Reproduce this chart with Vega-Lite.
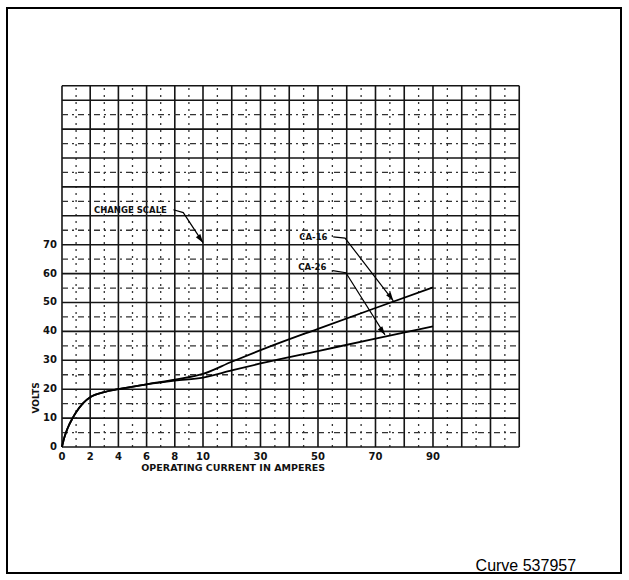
{
  "$schema": "https://vega.github.io/schema/vega-lite/v6.json",
  "width": 614,
  "height": 565,
  "autosize": {"type": "none"},
  "padding": {"left": 7, "top": 8, "right": 8, "bottom": 7},
  "background": "white",
  "config": {"view": {"stroke": "#000", "strokeWidth": 2}},
  "data": {"values": [{}]},
  "datasets": {
    "vmaj": [{"a":0},{"a":2},{"a":4},{"a":6},{"a":8},{"a":10},{"a":20},{"a":30},{"a":40},{"a":50},{"a":60},{"a":70},{"a":80},{"a":90},{"a":100},{"a":110},{"a":120}],
    "vmin": [{"a":1},{"a":3},{"a":5},{"a":7},{"a":9},{"a":15},{"a":25},{"a":35},{"a":45},{"a":55},{"a":65},{"a":75},{"a":85},{"a":95},{"a":105},{"a":115}],
    "hmaj": [{"b":0},{"b":10},{"b":20},{"b":30},{"b":40},{"b":50},{"b":60},{"b":70},{"b":80},{"b":90},{"b":100},{"b":110},{"b":120},{"b":125}],
    "hmin": [{"b":5},{"b":15},{"b":25},{"b":35},{"b":45},{"b":55},{"b":65},{"b":75},{"b":85},{"b":95},{"b":105},{"b":115}],
    "curves": [
      {"s":"CA-16","amps":0,"volts":0},{"s":"CA-16","amps":0.15,"volts":3},{"s":"CA-16","amps":0.4,"volts":6.5},{"s":"CA-16","amps":0.7,"volts":9.5},{"s":"CA-16","amps":1,"volts":12},{"s":"CA-16","amps":1.5,"volts":15.2},{"s":"CA-16","amps":2,"volts":17.2},{"s":"CA-16","amps":3,"volts":19},{"s":"CA-16","amps":4,"volts":20},{"s":"CA-16","amps":6,"volts":21.7},{"s":"CA-16","amps":8,"volts":23.3},{"s":"CA-16","amps":10,"volts":25.3},{"s":"CA-16","amps":20,"volts":29.5},{"s":"CA-16","amps":30,"volts":33.5},{"s":"CA-16","amps":50,"volts":40.9},{"s":"CA-16","amps":70,"volts":48.1},{"s":"CA-16","amps":90,"volts":55.2},
      {"s":"CA-26","amps":0,"volts":0},{"s":"CA-26","amps":0.15,"volts":3},{"s":"CA-26","amps":0.4,"volts":6.5},{"s":"CA-26","amps":0.7,"volts":9.5},{"s":"CA-26","amps":1,"volts":12},{"s":"CA-26","amps":1.5,"volts":15.2},{"s":"CA-26","amps":2,"volts":17.2},{"s":"CA-26","amps":3,"volts":19},{"s":"CA-26","amps":4,"volts":20},{"s":"CA-26","amps":6,"volts":21.7},{"s":"CA-26","amps":8,"volts":23.0},{"s":"CA-26","amps":10,"volts":24.0},{"s":"CA-26","amps":20,"volts":26.5},{"s":"CA-26","amps":30,"volts":28.9},{"s":"CA-26","amps":50,"volts":33.2},{"s":"CA-26","amps":70,"volts":37.5},{"s":"CA-26","amps":90,"volts":41.7}
    ],
    "ylabels": [{"v":0},{"v":10},{"v":20},{"v":30},{"v":40},{"v":50},{"v":60},{"v":70}],
    "xlabels": [{"v":0},{"v":2},{"v":4},{"v":6},{"v":8},{"v":10},{"v":30},{"v":50},{"v":70},{"v":90}],
    "leaders": [
      {"g":"cs","k":0,"x":7.9,"y":82.1},{"g":"cs","k":1,"x":8.6,"y":81.1},{"g":"cs","k":2,"x":10,"y":70.7},
      {"g":"c16","k":0,"x":55.3,"y":72.7},{"g":"c16","k":1,"x":59.4,"y":72.3},{"g":"c16","k":2,"x":76.2,"y":50.6},
      {"g":"c26","k":0,"x":55.1,"y":61.0},{"g":"c26","k":1,"x":59.7,"y":60.3},{"g":"c26","k":2,"x":73.3,"y":38.8}
    ],
    "arrows": [{"x":10,"y":70.7},{"x":76.2,"y":50.6},{"x":73.3,"y":38.8}],
    "notes": [
      {"t":"CHANGE SCALE","x":4.85,"y":82.1},
      {"t":"CA-16","x":48.4,"y":72.6},
      {"t":"CA-26","x":48.0,"y":62.3}
    ]
  },
  "layer": [
    {
      "data": {"name": "vmaj"},
      "mark": {"type": "rule", "color": "#151515", "strokeWidth": 1.6},
      "encoding": {
        "x": {"field": "a", "type": "quantitative", "axis": null, "scale": {"type": "linear", "domain": [-3.9, 10, 155.4], "range": [0, 196, 614], "nice": false, "zero": false}},
        "y": {"datum": 0, "type": "quantitative", "axis": null, "scale": {"type": "linear", "domain": [-43.6, 151.9], "nice": false, "zero": false}},
        "y2": {"datum": 125}
      }
    },
    {
      "data": {"name": "vmin"},
      "mark": {"type": "rule", "color": "#333", "strokeWidth": 1.3, "strokeDash": [2, 5]},
      "encoding": {
        "x": {"field": "a", "type": "quantitative", "axis": null},
        "y": {"datum": 0, "type": "quantitative", "axis": null},
        "y2": {"datum": 125}
      }
    },
    {
      "data": {"name": "hmaj"},
      "mark": {"type": "rule", "color": "#151515", "strokeWidth": 1.6},
      "encoding": {
        "y": {"field": "b", "type": "quantitative", "axis": null},
        "x": {"datum": 0, "type": "quantitative", "axis": null},
        "x2": {"datum": 120}
      }
    },
    {
      "data": {"name": "hmin"},
      "mark": {"type": "rule", "color": "#333", "strokeWidth": 1.3, "strokeDash": [6, 4, 2, 4]},
      "encoding": {
        "y": {"field": "b", "type": "quantitative", "axis": null},
        "x": {"datum": 0, "type": "quantitative", "axis": null},
        "x2": {"datum": 120}
      }
    },
    {
      "data": {"name": "curves"},
      "mark": {"type": "line", "color": "#000", "strokeWidth": 1.8, "interpolate": "monotone"},
      "encoding": {
        "x": {"field": "amps", "type": "quantitative", "axis": null},
        "y": {"field": "volts", "type": "quantitative", "axis": null},
        "detail": {"field": "s"}
      }
    },
    {
      "data": {"name": "leaders"},
      "mark": {"type": "line", "color": "#000", "strokeWidth": 1.2},
      "encoding": {
        "x": {"field": "x", "type": "quantitative", "axis": null},
        "y": {"field": "y", "type": "quantitative", "axis": null},
        "detail": {"field": "g"},
        "order": {"field": "k"}
      }
    },
    {
      "data": {"name": "arrows"},
      "mark": {"type": "point", "shape": "M0,0L-0.45,1.4L0.45,1.4Z", "filled": true, "color": "#000", "opacity": 1, "size": 150, "angle": 145},
      "encoding": {
        "x": {"field": "x", "type": "quantitative", "axis": null},
        "y": {"field": "y", "type": "quantitative", "axis": null}
      }
    },
    {
      "data": {"name": "notes"},
      "mark": {"type": "text", "font": "DejaVu Sans", "fontWeight": "bold", "fontSize": 8.5, "color": "#111"},
      "encoding": {
        "x": {"field": "x", "type": "quantitative", "axis": null},
        "y": {"field": "y", "type": "quantitative", "axis": null},
        "text": {"field": "t"}
      }
    },
    {
      "data": {"name": "ylabels"},
      "mark": {"type": "text", "font": "DejaVu Sans", "fontWeight": "bold", "fontSize": 10, "align": "right", "baseline": "middle", "dx": -5, "color": "#111"},
      "encoding": {
        "x": {"datum": 0, "type": "quantitative", "axis": null},
        "y": {"field": "v", "type": "quantitative", "axis": null},
        "text": {"field": "v", "type": "quantitative"}
      }
    },
    {
      "data": {"name": "xlabels"},
      "mark": {"type": "text", "font": "DejaVu Sans", "fontWeight": "bold", "fontSize": 10, "align": "center", "baseline": "middle", "dy": 10, "color": "#111"},
      "encoding": {
        "x": {"field": "v", "type": "quantitative", "axis": null},
        "y": {"datum": 0, "type": "quantitative", "axis": null},
        "text": {"field": "v", "type": "quantitative"}
      }
    },
    {
      "mark": {"type": "text", "text": "OPERATING  CURRENT  IN  AMPERES", "font": "DejaVu Sans", "fontWeight": "bold", "fontSize": 9.5, "align": "center", "baseline": "middle", "dy": 21, "color": "#111"},
      "encoding": {
        "x": {"datum": 20.5, "type": "quantitative", "axis": null},
        "y": {"datum": 0, "type": "quantitative", "axis": null}
      }
    },
    {
      "mark": {"type": "text", "text": "VOLTS", "font": "DejaVu Sans", "fontWeight": "bold", "fontSize": 9, "angle": 270, "align": "center", "baseline": "middle", "color": "#111"},
      "encoding": {
        "x": {"datum": -1.85, "type": "quantitative", "axis": null},
        "y": {"datum": 17, "type": "quantitative", "axis": null}
      }
    },
    {
      "mark": {"type": "text", "text": "Curve 537957", "font": "Liberation Sans", "fontSize": 16, "align": "center", "baseline": "middle", "color": "#000"},
      "encoding": {
        "x": {"datum": 122.3, "type": "quantitative", "axis": null},
        "y": {"datum": -41.2, "type": "quantitative", "axis": null}
      }
    }
  ]
}
